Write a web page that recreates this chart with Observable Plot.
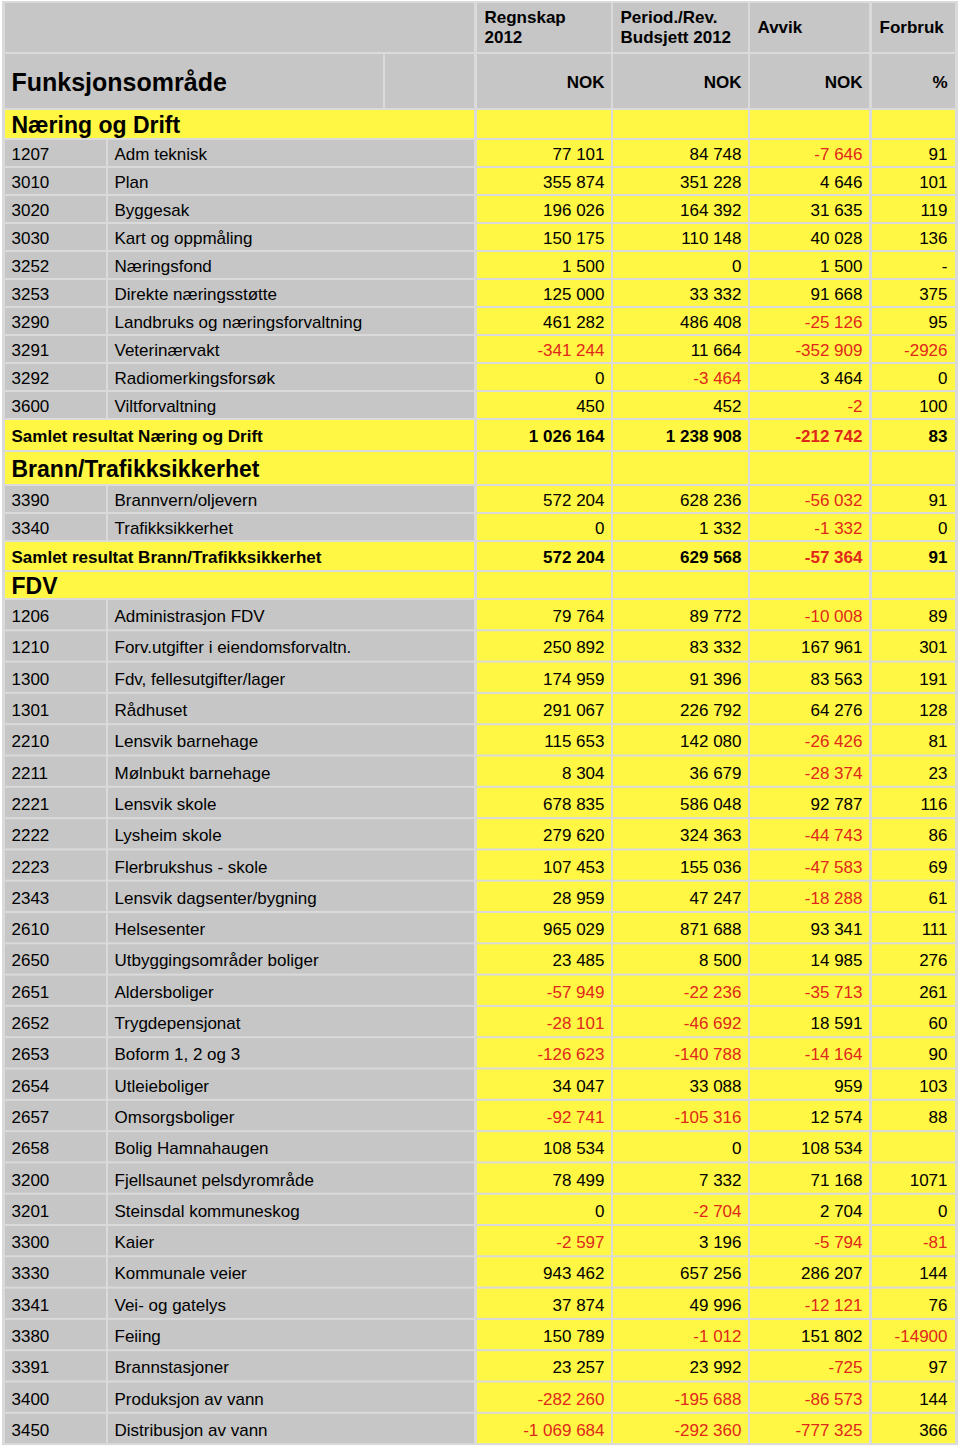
<!DOCTYPE html>
<html><head><meta charset="utf-8">
<script src="https://cdn.jsdelivr.net/npm/d3@7"></script>
<script src="https://cdn.jsdelivr.net/npm/@observablehq/plot@0.6"></script>
<style>
body{margin:0;background:#fff;font-family:"Liberation Sans",Arial,sans-serif;}
</style></head><body><div id="chart"></div>
<script>
// ---------- DATA ----------
const titleLabel = "Funksjonsområde";
const headerLines = [["Regnskap","2012"],["Period./Rev.","Budsjett 2012"],["Avvik"],["Forbruk"]];
const unitLabels = ["NOK","NOK","NOK","%"];
const sections = ["Næring og Drift","Brann/Trafikksikkerhet","FDV"];

const codes = ["1207","3010","3020","3030","3252","3253","3290","3291","3292","3600",
  "3390","3340",
  "1206","1210","1300","1301","2210","2211","2221","2222","2223","2343","2610","2650","2651","2652","2653","2654","2657","2658","3200","3201","3300","3330","3341","3380","3391","3400","3450"];
const names = ["Adm teknisk","Plan","Byggesak","Kart og oppmåling","Næringsfond","Direkte næringsstøtte","Landbruks og næringsforvaltning","Veterinærvakt","Radiomerkingsforsøk","Viltforvaltning",
  "Brannvern/oljevern","Trafikksikkerhet",
  "Administrasjon FDV","Forv.utgifter i eiendomsforvaltn.","Fdv, fellesutgifter/lager","Rådhuset","Lensvik barnehage","Mølnbukt barnehage","Lensvik skole","Lysheim skole","Flerbrukshus - skole","Lensvik dagsenter/bygning","Helsesenter","Utbyggingsområder boliger","Aldersboliger","Trygdepensjonat","Boform 1, 2 og 3","Utleieboliger","Omsorgsboliger","Bolig Hamnahaugen","Fjellsaunet pelsdyrområde","Steinsdal kommuneskog","Kaier","Kommunale veier","Vei- og gatelys","Feiing","Brannstasjoner","Produksjon av vann","Distribusjon av vann"];
const sectionOf = [0,0,0,0,0,0,0,0,0,0, 1,1, 2,2,2,2,2,2,2,2,2,2,2,2,2,2,2,2,2,2,2,2,2,2,2,2,2,2,2];
const regnskap = [77101,355874,196026,150175,1500,125000,461282,-341244,0,450,
  572204,0,
  79764,250892,174959,291067,115653,8304,678835,279620,107453,28959,965029,23485,-57949,-28101,-126623,34047,-92741,108534,78499,0,-2597,943462,37874,150789,23257,-282260,-1069684];
const budsjett = [84748,351228,164392,110148,0,33332,486408,11664,-3464,452,
  628236,1332,
  89772,83332,91396,226792,142080,36679,586048,324363,155036,47247,871688,8500,-22236,-46692,-140788,33088,-105316,0,7332,-2704,3196,657256,49996,-1012,23992,-195688,-292360];
const avvik = [-7646,4646,31635,40028,1500,91668,-25126,-352909,3464,-2,
  -56032,-1332,
  -10008,167961,83563,64276,-26426,-28374,92787,-44743,-47583,-18288,93341,14985,-35713,18591,-14164,959,12574,108534,71168,2704,-5794,286207,-12121,151802,-725,-86573,-777325];
// NaN = "-", null = blank
const forbruk = [91,101,119,136,NaN,375,95,-2926,0,100,
  91,0,
  89,301,191,128,81,23,116,86,69,61,111,276,261,60,90,103,88,null,1071,0,-81,144,76,-14900,97,144,366];
const totalLabels = ["Samlet resultat Næring og Drift","Samlet resultat Brann/Trafikksikkerhet"];
const totalRegnskap = [1026164,572204];
const totalBudsjett = [1238908,629568];
const totalAvvik = [-212742,-57364];
const totalForbruk = [83,91];

// ---------- LAYOUT / STYLE ----------
const W = 960, H = 1450;
const GREY = "#c6c6c6", YELLOW = "#fff744", GAPC = "#dadada", RED = "#e0281a", BLACK = "#000";
const colX = {code:[5,106], name:[108,474], left:[5,474], num:[[477,611],[613,748],[750,869],[872,955]]};
const numRight = [604,741,862,947];
const gap = 2;
const pitch = {head1:51, head2:56};
const sectionPitch = [30,34,28];
const itemPitch = [28,28,31.3];
const totalPitch = [32,30];

// Build row list
const rows = [];
let y = 3;
function addRow(kind, h, extra) { rows.push({kind, y1:y, y2:y+h-gap, ...extra}); y += h; }
addRow("head1", pitch.head1);
addRow("head2", pitch.head2);
sections.forEach((s, si) => {
  addRow("section", sectionPitch[si], {label:s});
  codes.forEach((c, i) => {
    if (sectionOf[i] === si) addRow("item", itemPitch[si], {i});
  });
  if (si < totalLabels.length) addRow("total", totalPitch[si], {t:si});
});

const fmt = v => (v < 0 ? "-" : "") + d3.format(",")(Math.abs(v)).replace(/,/g, " ");
const fmtPct = v => v === null ? "" : (Number.isNaN(v) ? "-" : String(v));

// Cells
const cells = [];
const numTexts = [], numBoldTexts = [], leftTexts = [], sectionTexts = [], totalTexts = [], headTexts = [], unitTexts = [], titleTexts = [];
for (const r of rows) {
  const cy = (r.y1 + r.y2) / 2;
  if (r.kind === "head1") {
    cells.push({x1:colX.left[0], x2:colX.left[1], y1:r.y1, y2:r.y2, fill:GREY});
    colX.num.forEach(([a,b], k) => {
      cells.push({x1:a, x2:b, y1:r.y1, y2:r.y2, fill:GREY});
      const lines = headerLines[k];
      lines.forEach((ln, j) => {
        const off = lines.length === 1 ? 0 : (j === 0 ? -10 : 10);
        headTexts.push({x:a + 7, y:cy + off, text:ln});
      });
    });
  } else if (r.kind === "head2") {
    cells.push({x1:colX.left[0], x2:383, y1:r.y1, y2:r.y2, fill:GREY});
    cells.push({x1:385, x2:colX.left[1], y1:r.y1, y2:r.y2, fill:GREY});
    titleTexts.push({x:11, y:cy + 1, text:titleLabel});
    colX.num.forEach(([a,b], k) => {
      cells.push({x1:a, x2:b, y1:r.y1, y2:r.y2, fill:GREY});
      unitTexts.push({x:numRight[k], y:cy + 1, text:unitLabels[k]});
    });
  } else if (r.kind === "section") {
    cells.push({x1:colX.left[0], x2:colX.left[1], y1:r.y1, y2:r.y2, fill:YELLOW});
    colX.num.forEach(([a,b]) => cells.push({x1:a, x2:b, y1:r.y1, y2:r.y2, fill:YELLOW}));
    sectionTexts.push({x:11, y:cy + 1, text:r.label});
  } else if (r.kind === "item") {
    const i = r.i;
    cells.push({x1:colX.code[0], x2:colX.code[1], y1:r.y1, y2:r.y2, fill:GREY});
    cells.push({x1:colX.name[0], x2:colX.name[1], y1:r.y1, y2:r.y2, fill:GREY});
    colX.num.forEach(([a,b]) => cells.push({x1:a, x2:b, y1:r.y1, y2:r.y2, fill:YELLOW}));
    const ty = cy + 1.5;
    leftTexts.push({x:11, y:ty, text:codes[i]});
    leftTexts.push({x:114, y:ty, text:names[i]});
    const vals = [regnskap[i], budsjett[i], avvik[i]];
    vals.forEach((v, k) => numTexts.push({x:numRight[k], y:ty, text:fmt(v), color: v < 0 ? RED : BLACK}));
    const p = forbruk[i];
    numTexts.push({x:numRight[3], y:ty, text:fmtPct(p), color: (p !== null && p < 0) ? RED : BLACK});
  } else if (r.kind === "total") {
    const t = r.t;
    cells.push({x1:colX.left[0], x2:colX.left[1], y1:r.y1, y2:r.y2, fill:YELLOW});
    colX.num.forEach(([a,b]) => cells.push({x1:a, x2:b, y1:r.y1, y2:r.y2, fill:YELLOW}));
    totalTexts.push({x:11, y:cy + 1, text:totalLabels[t]});
    const vals = [totalRegnskap[t], totalBudsjett[t], totalAvvik[t], totalForbruk[t]];
    vals.forEach((v, k) => numBoldTexts.push({x:numRight[k], y:cy + 1, text: k < 3 ? fmt(v) : String(v), color: v < 0 ? RED : BLACK}));
  }
}
const tableBottom = y - gap + 2;

const FONT = "'Liberation Sans', Arial, Helvetica, sans-serif";
const chart = Plot.plot({
  width: W, height: H, margin: 0,
  x: {domain:[0, W], range:[0, W], axis:null},
  y: {domain:[0, H], range:[0, H], axis:null},
  style: {fontFamily: FONT, background: "white"},
  marks: [
    Plot.rect([{x1:2, x2:958, y1:1, y2:tableBottom}], {x1:"x1", x2:"x2", y1:"y1", y2:"y2", fill: GAPC}),
    Plot.rect(cells, {x1:"x1", x2:"x2", y1:"y1", y2:"y2", fill:"fill"}),
    Plot.text(titleTexts, {x:"x", y:"y", text:"text", textAnchor:"start", fontSize:25, fontWeight:"bold", fill:BLACK}),
    Plot.text(headTexts, {x:"x", y:"y", text:"text", textAnchor:"start", fontSize:17, fontWeight:"bold", fill:BLACK}),
    Plot.text(unitTexts, {x:"x", y:"y", text:"text", textAnchor:"end", fontSize:17, fontWeight:"bold", fill:BLACK}),
    Plot.text(sectionTexts, {x:"x", y:"y", text:"text", textAnchor:"start", fontSize:23, fontWeight:"bold", fill:BLACK}),
    Plot.text(totalTexts, {x:"x", y:"y", text:"text", textAnchor:"start", fontSize:17, fontWeight:"bold", fill:BLACK}),
    Plot.text(leftTexts, {x:"x", y:"y", text:"text", textAnchor:"start", fontSize:17, fill:BLACK}),
    Plot.text(numTexts, {x:"x", y:"y", text:"text", textAnchor:"end", fontSize:17, fill:"color"}),
    Plot.text(numBoldTexts, {x:"x", y:"y", text:"text", textAnchor:"end", fontSize:17, fontWeight:"bold", fill:"color"})
  ]
});
document.getElementById("chart").appendChild(chart);
</script>
</body></html>
